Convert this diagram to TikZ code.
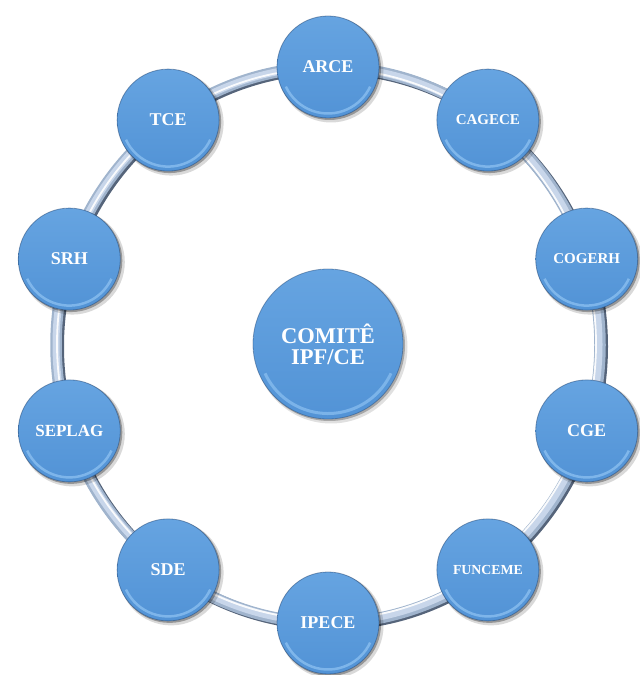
\documentclass[tikz,border=0pt]{standalone}
\usepackage{fontspec}
\setmainfont{Liberation Serif}
\usetikzlibrary{calc}
\definecolor{nodeblue}{RGB}{82,147,214}
\definecolor{nodetop}{RGB}{102,164,225}
\definecolor{rimdark}{RGB}{35,70,115}
\definecolor{rimlight}{RGB}{150,200,245}
\definecolor{tubedark}{RGB}{85,100,122}
\definecolor{tubemid}{RGB}{160,180,205}
\definecolor{tubelight}{RGB}{200,214,234}
\tikzset{
  ballnode/.style={circle, inner sep=0pt, text=white, align=center},
  balltext/.style={font=\bfseries\fontsize{#1}{#1}\selectfont}
}
\begin{document}
\begin{tikzpicture}[x=1pt,y=1pt]
\useasboundingbox (0,0) rectangle (640,675);
% ring tube
\draw[tubedark, line width=12] (330,328.5) ellipse [x radius=272, y radius=278];
\draw[tubemid, line width=11.5] (328,330) ellipse [x radius=272, y radius=278];
\draw[tubelight, line width=7] (327.5,330.5) ellipse [x radius=271.5, y radius=277.5];
\draw[white, line width=1.8, opacity=0.9] (326.5,331) ellipse [x radius=269.5, y radius=275.5];
% outer balls
\foreach \a/\n/\t/\s in {90/arce/ARCE/18, 54/cagece/CAGECE/15, 18/cogerh/COGERH/15,
  -18/cge/CGE/18, -54/funceme/FUNCEME/13.8, -90/ipece/IPECE/18, -126/sde/SDE/18,
  -162/seplag/SEPLAG/17, 162/srh/SRH/18, 126/tce/TCE/18} {
  \coordinate (p\n) at ({328+272*cos(\a)},{330+278*sin(\a)});
  \fill[black,opacity=0.15] ($(p\n)+(3,-3)$) circle (52.5);
  \fill[black,opacity=0.3] ($(p\n)+(1.5,-1.5)$) circle (51.5);
  \shade[top color=nodetop, bottom color=nodeblue] (p\n) circle (51);
  \draw[rimlight, line width=2.5, opacity=0.65] ($(p\n)+(205:46.5)$) arc (205:335:46.5);
  \draw[rimdark, line width=0.8, opacity=0.5] (p\n) circle (51);
  \node[ballnode, minimum size=102pt, balltext=\s] (\n) at (p\n) {\t};
}
% center ball
\coordinate (pc) at (328,331);
\fill[black,opacity=0.12] ($(pc)+(3,-3)$) circle (76.5);
\fill[black,opacity=0.25] ($(pc)+(1.5,-1.5)$) circle (75.5);
\shade[top color=nodetop, bottom color=nodeblue] (pc) circle (75);
\draw[rimlight, line width=3, opacity=0.6] ($(pc)+(205:69.5)$) arc (205:335:69.5);
\draw[rimdark, line width=0.8, opacity=0.45] (pc) circle (75);
\node[ballnode, minimum size=150pt, font=\bfseries\fontsize{22.5}{21}\selectfont] (comite) at (pc) {COMITÊ\\IPF/CE};
\end{tikzpicture}
\end{document}
